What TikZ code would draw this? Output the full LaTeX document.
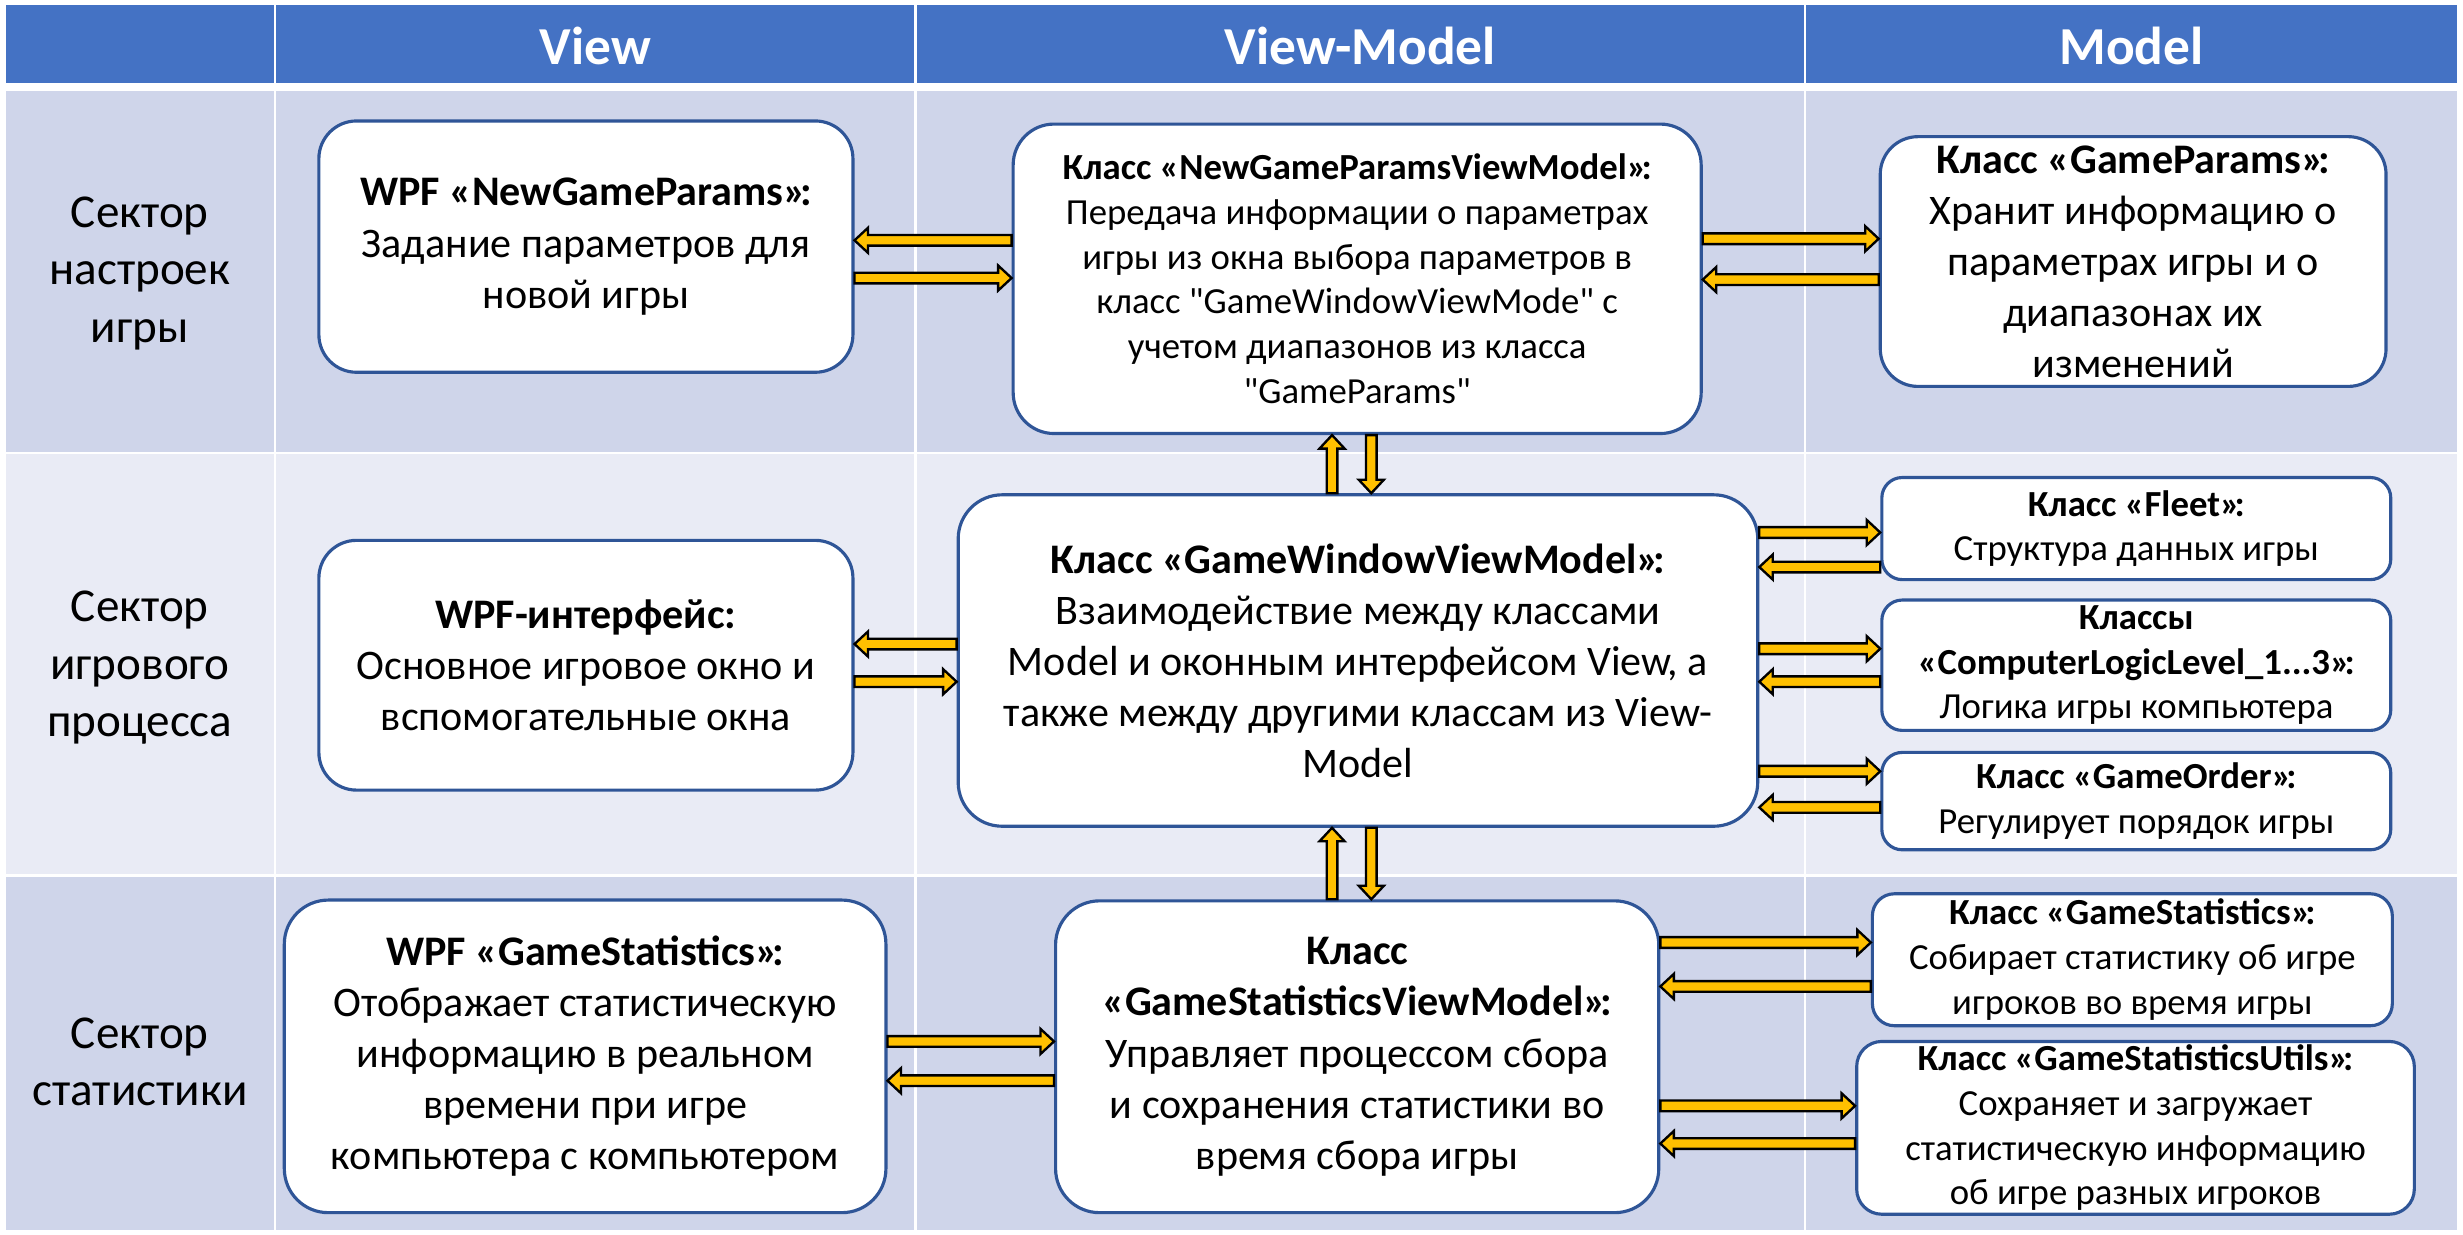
\documentclass[tikz,border=0pt]{standalone}
\usepackage{fontspec}
\setmainfont{Carlito}[Ligatures=TeXOff]
\usetikzlibrary{calc}

\definecolor{headblue}{HTML}{4472C4}
\definecolor{banddark}{HTML}{CFD5EA}
\definecolor{bandlight}{HTML}{E9EBF5}
\definecolor{cardedge}{HTML}{2F5597}
\definecolor{flowfill}{HTML}{FFC000}

\newcommand\bodyfont{\fontsize{13.4}{16.25}\selectfont}
\newcommand\smallfont{\fontsize{11.7}{14.25}\selectfont}
% closing guillemet followed by a colon, set tight
\newcommand\qcolon{»\kern-0.14em:}

\tikzset{
  card/.style={draw=cardedge, line width=1pt, fill=white, rounded corners=12pt,
    align=center, inner sep=0pt, font=\bodyfont},
  smallcard/.style={card, rounded corners=6.5pt, font=\smallfont},
  sector/.style={align=center, font=\fontsize{15}{18.25}\selectfont},
  colhead/.style={text=white, font=\fontsize{17}{20}\selectfont\bfseries},
  flowarrow/.style={draw=black, line width=0.75pt, fill=flowfill, line join=miter},
}

% rounded box given by its corners (x1,y1) and (x2,y2)
\newcommand\cardat[7]{%
  \pgfmathsetmacro\cardwd{(#5-#3)*0.5}%
  \pgfmathsetmacro\cardht{(#6-#4)*0.5}%
  \node[#1, minimum width=\cardwd pt, minimum height=\cardht pt] (#2)
    at ({(#3+#5)/2},{(#4+#6)/2}) {#7};}

% one band of four table cells between y1 and y2
\newcommand\band[3]{%
  \fill[#3] (4,#1) rectangle (174.5,#2);
  \fill[#3] (176,#1) rectangle (582,#2);
  \fill[#3] (583.5,#1) rectangle (1148.5,#2);
  \fill[#3] (1150,#1) rectangle (1564,#2);}

% block arrow from #1 to #2
\def\flowsw{1.7pt}
\def\flowhw{4pt}
\def\flowhl{4.3pt}
\newcommand\flow[2]{%
  \coordinate (fa) at #1;
  \coordinate (fb) at #2;
  \coordinate (fh) at ($(fb)!\flowhl!(fa)$);
  \draw[flowarrow] ($(fa)!\flowsw!90:(fb)$) -- ($(fh)!\flowsw!-90:(fa)$)
    -- ($(fh)!\flowhw!-90:(fa)$) -- (fb) -- ($(fh)!\flowhw!90:(fa)$)
    -- ($(fh)!\flowsw!90:(fa)$) -- ($(fa)!\flowsw!-90:(fb)$) -- cycle;}

\begin{document}
\begin{tikzpicture}[x=0.5pt, y=-0.5pt]
\useasboundingbox (0,0) rectangle (1568,786);
\fill[white] (0,0) rectangle (1568,786);

% table
\band{3}{53}{headblue}
\band{58}{287.5}{banddark}
\band{289}{556.5}{bandlight}
\band{558}{783}{banddark}

\node[colhead] (hview) at (379,29) {View};
\node[colhead] (hvm) at (866,29) {View-Model};
\node[colhead] (hmodel) at (1357,29) {Model};

\node[sector] (s1) at (89,174) {Сектор\\настроек\\игры};
\node[sector] (s2) at (89,425) {Сектор\\игрового\\процесса};
\node[sector] (s3) at (89,676) {Сектор\\статистики};

% settings sector
\cardat{card}{ngp}{203}{77}{543}{237}{\textbf{WPF «NewGameParams\qcolon}\\Задание параметров для\\новой игры}
\cardat{card, font=\smallfont, rounded corners=13pt}{ngpvm}{645}{79}{1083}{276}{\textbf{Класс «NewGameParamsViewModel\qcolon}\\Передача информации о параметрах\\игры из окна выбора параметров в\\класс "GameWindowViewMode" с\\учетом диапазонов из класса\\"GameParams"}
\cardat{card}{gp}{1197}{87}{1519}{246}{\textbf{Класс «GameParams\qcolon}\\Хранит информацию о\\параметрах игры и о\\диапазонах их\\изменений}

% game sector
\cardat{card}{wpfi}{203}{344}{543}{503}{\textbf{WPF-интерфейс:}\\Основное игровое окно и\\вспомогательные окна}
\cardat{card, rounded corners=14pt}{gwvm}{610}{315}{1119}{526}{\textbf{Класс «GameWindowViewModel\qcolon}\\Взаимодействие между классами\\Model и оконным интерфейсом View, а\\также между другими классам из View-\\Model}
\cardat{smallcard}{fleet}{1198}{304}{1522}{369}{\textbf{Класс «Fleet\qcolon}\\Структура данных игры}
\cardat{smallcard}{cll}{1198}{382}{1522}{465}{\textbf{Классы}\\\textbf{«ComputerLogicLevel\_1...3\qcolon}\\Логика игры компьютера}
\cardat{smallcard}{go}{1198}{479}{1522}{541}{\textbf{Класс «GameOrder\qcolon}\\Регулирует порядок игры}

% statistics sector
\cardat{card, rounded corners=14pt}{wgs}{181}{573}{564}{772}{\textbf{WPF «GameStatistics\qcolon}\\Отображает статистическую\\информацию в реальном\\времени при игре\\компьютера с компьютером}
\cardat{card, rounded corners=14pt}{gsvm}{672}{573.5}{1056}{772}{\textbf{Класс}\\\textbf{«GameStatisticsViewModel\qcolon}\\Управляет процессом сбора\\и сохранения статистики во\\время сбора игры}
\cardat{smallcard, rounded corners=7pt}{gs}{1192}{569}{1523}{653}{\textbf{Класс «GameStatistics\qcolon}\\Собирает статистику об игре\\игроков во время игры}
\cardat{smallcard, rounded corners=8pt}{gsu}{1182}{663}{1537}{773}{\textbf{Класс «GameStatisticsUtils\qcolon}\\Сохраняет и загружает\\статистическую информацию\\об игре разных игроков}

% data flows
\flow{(ngpvm.west |- 0,153)}{(ngp.east |- 0,153)}
\flow{(ngp.east |- 0,177)}{(ngpvm.west |- 0,177)}
\flow{(ngpvm.east |- 0,152)}{(gp.west |- 0,152)}
\flow{(gp.west |- 0,178)}{(ngpvm.east |- 0,178)}
\flow{(gwvm.north -| 848,0)}{(ngpvm.south -| 848,0)}
\flow{(ngpvm.south -| 873,0)}{(gwvm.north -| 873,0)}

\flow{(gwvm.west |- 0,410)}{(wpfi.east |- 0,410)}
\flow{(wpfi.east |- 0,434)}{(gwvm.west |- 0,434)}
\flow{(gwvm.east |- 0,339)}{(fleet.west |- 0,339)}
\flow{(fleet.west |- 0,361)}{(gwvm.east |- 0,361)}
\flow{(gwvm.east |- 0,413)}{(cll.west |- 0,413)}
\flow{(cll.west |- 0,434)}{(gwvm.east |- 0,434)}
\flow{(gwvm.east |- 0,491)}{(go.west |- 0,491)}
\flow{(go.west |- 0,514)}{(gwvm.east |- 0,514)}
\flow{(gsvm.north -| 848,0)}{(gwvm.south -| 848,0)}
\flow{(gwvm.south -| 873,0)}{(gsvm.north -| 873,0)}

\flow{(wgs.east |- 0,663)}{(gsvm.west |- 0,663)}
\flow{(gsvm.west |- 0,688)}{(wgs.east |- 0,688)}
\flow{(gsvm.east |- 0,600)}{(gs.west |- 0,600)}
\flow{(gs.west |- 0,628)}{(gsvm.east |- 0,628)}
\flow{(gsvm.east |- 0,704)}{(gsu.west |- 0,704)}
\flow{(gsu.west |- 0,728)}{(gsvm.east |- 0,728)}
\end{tikzpicture}
\end{document}
